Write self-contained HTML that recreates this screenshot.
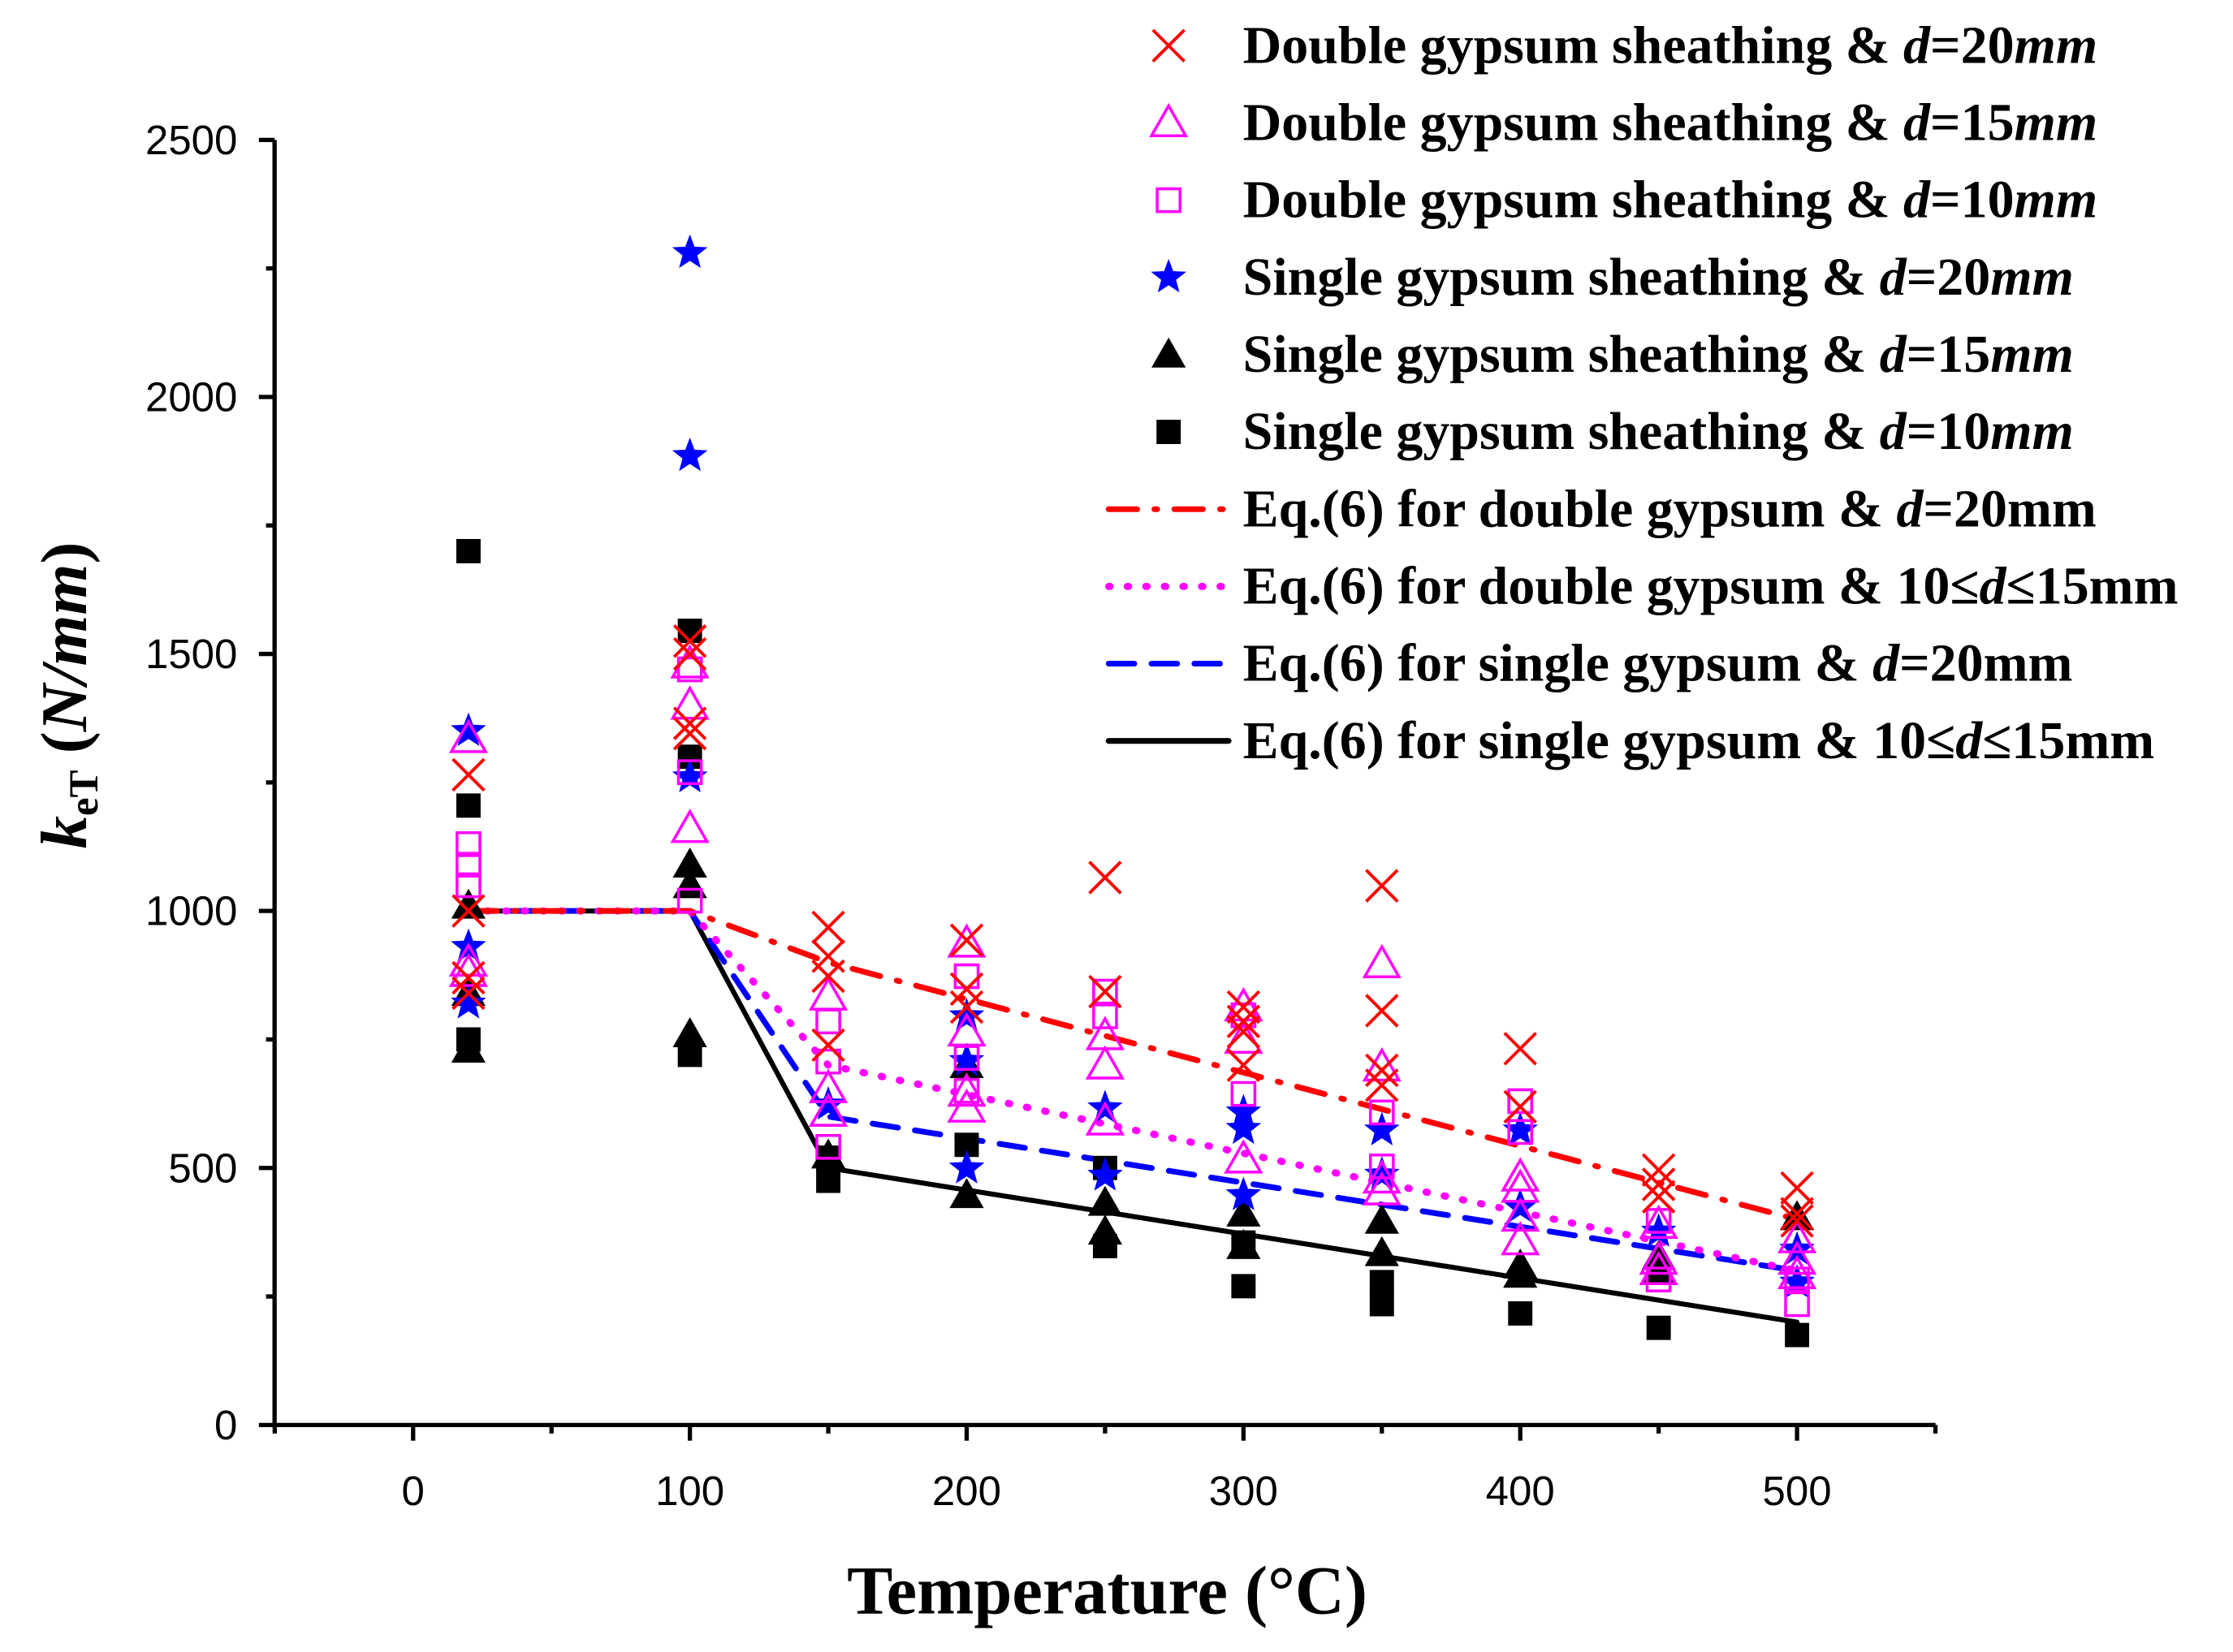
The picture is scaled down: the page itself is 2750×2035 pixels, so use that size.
<!DOCTYPE html>
<html><head><meta charset="utf-8"><style>
html,body{margin:0;padding:0;background:#fff;}
svg{display:block;}
text{font-family:"Liberation Serif",serif;}
</style></head><body>
<svg id="chart" width="2750" height="2035" viewBox="0 0 1563 1157" xmlns="http://www.w3.org/2000/svg">
<g id="axes"></g>
<g id="lines"></g>
<g id="marks"></g>
<g id="legend"></g>
<text x="775" y="1130" text-anchor="middle" font-size="48" font-weight="bold">Temperature (°C)</text>
<text transform="translate(60,487) rotate(-90)" text-anchor="middle" font-size="46" font-weight="bold" font-style="italic">k<tspan font-size="29" font-style="normal" dy="8">eT</tspan><tspan dy="-8" font-style="normal"> (</tspan>N/mm<tspan font-style="normal">)</tspan></text>
</svg>
<script>
const xTicks=[0,100,200,300,400,500];
const yTicks=[0,500,1000,1500,2000,2500];
const temps=[20,100,150,200,250,300,350,400,450,500];
const dbl20=[[1265,1000,870,840],[1525,1500,1365,1345],[968,912,873,739],[943,848,813],[1065,843],[813,785,765,700],[1049,806,690,661],[732,619],[496,468,444],[461,411,397]];
const dbl15=[[1335,900,880],[1480,1400,1160],[834,654,608],[937,764,647,616],[757,700,591],[813,750,517],[897,696,478,455],[482,460,404,358],[390,320,300],[362,320,292]];
const dbl10=[[1130,1090,1050],[1470,1270,1020],[785,707,541],[873,714,650],[843,795],[797,644],[608,503],[630,570],[397,283],[283,235]];
const sgl20=[[1350,930,820],[2280,1885,1260],[623],[795,708,499],[616,485],[608,576,447],[573,487],[573,424],[376],[341,277]];
const sgl15=[[1010,840,730],[1090,1050,760],[524],[700,447],[432,376],[411,348],[397,334],[310,292],[327,300],[404]];
const sgl10=[[1700,1205,750],[1545,1300,720],[475,520],[545],[500,348],[355,270],[278,235],[217],[189],[175]];
const lineT=[20,100,150,500];
const fitDbl20=[1000,1000,900,400];
const fitDbl1015=[1000,1000,700,300];
const fitSgl20=[1000,1000,600,300];
const fitSgl1015=[1000,1000,500,200];

const NS="http://www.w3.org/2000/svg";
const X=t=>289+(t)*1.938;
const Y=v=>998-v*0.36;
function el(tag,attrs,parent){const e=document.createElementNS(NS,tag);for(const k in attrs)e.setAttribute(k,attrs[k]);parent.appendChild(e);return e;}
const axes=document.getElementById('axes');
let a=el('path',{d:'M192,98 V998 H1355',fill:'none',stroke:'#000','stroke-width':3},axes);


yTicks.forEach(v=>{
 const t=el('line',{x1:181,x2:192,y1:Y(v),y2:Y(v),stroke:'#000','stroke-width':3},axes);
 
 
 if(v<2500){
 const m=el('line',{x1:186,x2:192,y1:Y(v+250),y2:Y(v+250),stroke:'#000','stroke-width':3},axes);
 
 
 }
 const l=el('text',{x:166,y:Y(v)+10,'text-anchor':'end','font-size':29,style:'font-family:"Liberation Sans",sans-serif'},axes);
 l.textContent=v;
 
 
});
[-50].concat(xTicks.map(t=>t+50)).forEach(t=>{
 const m=el('line',{x1:X(t),x2:X(t),y1:998,y2:1004,stroke:'#000','stroke-width':3},axes);
 
 
});
xTicks.forEach(t=>{
 const k=el('line',{x1:X(t),x2:X(t),y1:998,y2:1009,stroke:'#000','stroke-width':3},axes);
 
 
 const l=el('text',{x:X(t),y:1054,'text-anchor':'middle','font-size':29,style:'font-family:"Liberation Sans",sans-serif'},axes);
 l.textContent=t;
 
 
});

function marker(type,cx,cy,parent){
 let e;
 if(type==='x'){e=el('path',{d:`M${cx-11},${cy-11}L${cx+11},${cy+11}M${cx-11},${cy+11}L${cx+11},${cy-11}`,stroke:'#f00','stroke-width':2.2,fill:'none'},parent);}
 else if(type==='otri'){e=el('path',{d:`M${cx},${cy-12}L${cx+12},${cy+9}L${cx-12},${cy+9}Z`,stroke:'#f0f','stroke-width':2,fill:'none'},parent);}
 else if(type==='osq'){e=el('rect',{x:cx-8,y:cy-8,width:16,height:16,stroke:'#f0f','stroke-width':2,fill:'none'},parent);}
 else if(type==='star'){let p=[];for(let i=0;i<10;i++){const r=i%2?5.5:13;const an=-Math.PI/2+i*Math.PI/5;p.push((cx+r*Math.cos(an)).toFixed(1)+','+(cy+r*Math.sin(an)).toFixed(1));}e=el('polygon',{points:p.join(' '),fill:'#00f'},parent);}
 else if(type==='ftri'){e=el('path',{d:`M${cx},${cy-12}L${cx+12},${cy+9}L${cx-12},${cy+9}Z`,fill:'#000'},parent);}
 else {e=el('rect',{x:cx-8.5,y:cy-8.5,width:17,height:17,fill:'#000'},parent);}
 return e;
}
const marks=document.getElementById('marks');
const series=[[sgl10,'fsq','single-10mm-point'],[sgl15,'ftri','single-15mm-point'],[sgl20,'star','single-20mm-point'],[dbl10,'osq','double-10mm-point'],[dbl15,'otri','double-15mm-point'],[dbl20,'x','double-20mm-point']];
series.forEach(([data,type,name])=>{
 data.forEach((vals,i)=>vals.forEach(v=>{
  const m=marker(type,X(temps[i]),Y(v),marks);
  
  
 }));
});
const lines=document.getElementById('lines');
const lineStyles=[[fitSgl1015,'#000','',3.5,'fit-single-10-15mm'],[fitSgl20,'#00f','18 12',4,'fit-single-20mm'],[fitDbl1015,'#f0f','1 12',5,'fit-double-10-15mm'],[fitDbl20,'#f00','20 12 2 12',4,'fit-double-20mm']];
lineStyles.forEach(([vals,c,dash,w,name])=>{
 const d=vals.map((v,i)=>(i?'L':'M')+X(lineT[i])+','+Y(v)).join('');
 const p=el('path',{d:d,fill:'none',stroke:c,'stroke-width':w,'stroke-dasharray':dash,'stroke-linecap':'round'},lines);
 
 
});
const lg=document.getElementById('legend');
const entries=[
 ['x','Double gypsum sheathing &amp; <tspan font-style="italic">d</tspan>=20<tspan font-style="italic">mm</tspan>'],
 ['otri','Double gypsum sheathing &amp; <tspan font-style="italic">d</tspan>=15<tspan font-style="italic">mm</tspan>'],
 ['osq','Double gypsum sheathing &amp; <tspan font-style="italic">d</tspan>=10<tspan font-style="italic">mm</tspan>'],
 ['star','Single gypsum sheathing &amp; <tspan font-style="italic">d</tspan>=20<tspan font-style="italic">mm</tspan>'],
 ['ftri','Single gypsum sheathing &amp; <tspan font-style="italic">d</tspan>=15<tspan font-style="italic">mm</tspan>'],
 ['fsq','Single gypsum sheathing &amp; <tspan font-style="italic">d</tspan>=10<tspan font-style="italic">mm</tspan>'],
 [['#f00','20 12 2 12'],'Eq.(6) for double gypsum &amp; <tspan font-style="italic">d</tspan>=20mm'],
 [['#f0f','1 12'],'Eq.(6) for double gypsum &amp; 10≤<tspan font-style="italic">d</tspan>≤15mm'],
 [['#00f','18 12'],'Eq.(6) for single gypsum &amp; <tspan font-style="italic">d</tspan>=20mm'],
 [['#000',''],'Eq.(6) for single gypsum &amp; 10≤<tspan font-style="italic">d</tspan>≤15mm']
];
entries.forEach(([sym,txt],i)=>{
 const y=32+i*54.1;
 const g=el('g',{},lg);
 
 
 if(typeof sym==='string'){marker(sym,818,y,g);}
 else{el('line',{x1:776,x2:860,y1:y,y2:y,stroke:sym[0],'stroke-width':sym[0]==='#f0f'?5:4,'stroke-dasharray':sym[1],'stroke-linecap':'round'},g);}
 const t=el('text',{x:870,y:y+12,'font-size':37.5,'font-weight':'bold'},g);
 t.innerHTML=txt;
});
</script>
</body></html>
